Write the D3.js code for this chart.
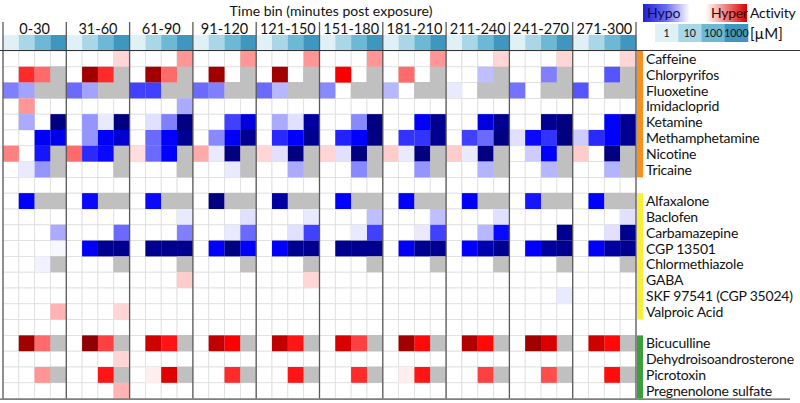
<!DOCTYPE html>
<html>
<head>
<meta charset="utf-8">
<script src="https://cdn.jsdelivr.net/npm/d3@7"></script>
<style>
  body { margin: 0; background: #fff; }
  text { font-family: Lato, "Open Sans", sans-serif; fill: #111; }
</style>
</head>
<body>
<svg id="chart" width="800" height="403"></svg>
<script>
const N = null; // grey cell (no value)

const timeBins = ["0-30", "31-60", "61-90", "91-120", "121-150", "151-180", "181-210", "211-240", "241-270", "271-300"];
const concentrations = ["1", "10", "100", "1000"];
const concColors = ["#dff0f7", "#a9d7e8", "#6cb8d5", "#3f97bf"];

// each row: 10 time bins x 4 concentrations
const groupANames = ["Caffeine", "Chlorpyrifos", "Fluoxetine", "Imidacloprid", "Ketamine", "Methamphetamine", "Nicotine", "Tricaine"];
const groupAValues = [
  [[0,0,0,0],[0,0,0,0.1],[0,0,0,0.25],[0,0,0,0.25],[0,0,0,0.25],[0,0,0,0.25],[0,0,0,0.25],[0,0,0,0.1],[0,0,0,0.1],[0,0,0,0.1]],
  [[0,0.5,0.35,N],[0,0.9,0.5,N],[0,0.9,0.35,N],[0,0.9,0,N],[0,0.9,0,N],[0,0.62,0,N],[0,0.35,0,N],[0,0,-0.15,N],[0,0,-0.3,N],[0,0,-0.4,N]],
  [[-0.3,-0.22,N,N],[-0.35,-0.22,N,N],[-0.45,-0.45,N,N],[-0.35,-0.3,N,N],[-0.35,-0.17,N,N],[-0.28,0,N,N],[-0.17,0,N,N],[-0.05,0,N,N],[-0.33,0,N,N],[-0.4,0,N,N]],
  [[0,0.25,0,0],[0,0,0,0],[0,0,0,-0.2],[0,0,0,0],[0,0,0,0],[0,0,0,0],[0,0,0,0],[0,0,0,0],[0,0,0,0],[0,0,0,0]],
  [[0,-0.2,0,-1],[0,-0.25,-0.05,-1],[0,-0.07,-0.3,-1],[0,0,-0.45,-0.7],[0,-0.2,-0.07,-0.9],[0,0,-0.28,-1],[0,0,-0.6,-0.95],[0,0,-0.7,-0.95],[0,0,-0.95,-1],[0,0,-0.6,-0.95]],
  [[0,0,-0.6,-0.65],[0,-0.25,-0.6,-0.75],[0,-0.35,-0.6,-0.95],[0,-0.28,-0.62,-0.95],[0,-0.5,-0.6,-0.95],[0,-0.52,-0.6,-1],[0,-0.48,-0.48,-0.95],[0,-0.45,-0.35,-1],[-0.07,-0.58,-0.48,-1],[-0.12,-0.5,-0.6,-0.95]],
  [[0.3,0,-0.55,N],[0.35,-0.5,-0.58,N],[0.08,-0.35,-0.6,N],[0.2,-0.05,-1,N],[0.1,-0.07,-1,N],[0.1,-0.07,-1,N],[0.12,-0.05,-1,N],[0.12,-0.05,-1,N],[0,-0.12,-0.6,N],[0.12,0,-1,N]],
  [[0,-0.05,-0.25,N],[0,0,0,N],[0,0,0,N],[0,0,-0.05,N],[0,0,-0.2,N],[0,0,-0.28,N],[0,0,-0.25,N],[0,0,-0.18,N],[0,0,-0.17,N],[0,0,-0.18,N]]
];

const groupBNames = ["Alfaxalone", "Baclofen", "Carbamazepine", "CGP 13501", "Chlormethiazole", "GABA", "SKF 97541 (CGP 35024)", "Valproic Acid"];
const groupBValues = [
  [[0,-0.6,N,N],[0,-0.58,N,N],[0,-0.58,N,N],[0,-1,N,N],[0,-0.9,N,N],[0,-0.6,N,N],[0,-0.6,N,N],[0,-0.6,N,N],[0,-0.55,N,N],[0,-0.6,N,N]],
  [[0,0,0,0],[0,0,0,0],[0,0,0,-0.05],[0,0,0,-0.07],[0,0,0,-0.05],[0,0,0,-0.15],[0,0,0,-0.15],[0,0,0,-0.07],[0,0,0,0],[0,0,0,-0.07]],
  [[0,0,0,-0.2],[0,0,0,-0.35],[0,0,0,-0.3],[0,0,-0.05,-0.35],[0,0,-0.07,-0.45],[0,0,-0.05,-0.45],[0,0,-0.05,-0.45],[0,0,-0.17,-0.58],[0,0,0,-0.95],[0,0,-0.07,-0.95]],
  [[0,0,0,-0.02],[0,-0.62,-0.95,-0.95],[0,-0.95,-0.95,-0.95],[0,-0.6,-1,-0.6],[0,-0.6,-0.95,-0.95],[0,-0.95,-0.95,-0.95],[0,-0.62,-0.95,-0.95],[0,-0.6,-0.85,-0.95],[0,-0.6,-0.9,-0.95],[0,-0.6,-0.9,-0.95]],
  [[0,0,-0.03,N],[0,0,0,N],[0,0,0,N],[0,0,0,N],[0,0,0,N],[0,0,0,N],[0,0,0,N],[0,0,0,N],[0,0,0,N],[0,0,0,N]],
  [[0,0,0,0],[0,0,0,0],[0,0,0,0.12],[0,0,0,0],[0,0,0,0.1],[0,0,0,0],[0,0,0,0],[0,0,0,0],[0,0,0,0],[0,0,0,0]],
  [[0,0,0,0],[0,0,0,0],[0,0,0,0],[0,0,0,0],[0,0,0,0],[0,0,0,0],[0,0,0,0],[0,0,0,0],[0,0,0,-0.05],[0,0,0,0]],
  [[0,0,0,0.18],[0,0,0,0.1],[0,0,0,0],[0,0,0,0],[0,0,0,0],[0,0,0,0],[0,0,0,0],[0,0,0,0],[0,0,0,0],[0,0,0,0]]
];

const groupCNames = ["Bicuculline", "Dehydroisoandrosterone", "Picrotoxin", "Pregnenolone sulfate"];
const groupCValues = [
  [[0,0.9,0.35,N],[0,0.95,0.45,N],[0,0.75,0.55,N],[0,0.8,0.6,N],[0,0.8,0.55,N],[0,0.72,0.45,N],[0,0.9,0.58,N],[0,0.85,0.58,N],[0,0.9,0.72,N],[0,0.75,0.58,N]],
  [[0,0,0,0],[0,0,0,0.1],[0,0,0,0],[0,0,0,0],[0,0,0,0],[0,0,0,0],[0,0,0,0],[0,0,0,0],[0,0,0,0],[0,0,0,0]],
  [[0,0,0.25,N],[0,0,0.55,N],[0,0.04,0.7,N],[0,0,0.5,N],[0,0,0.55,N],[0,0,0.5,N],[0,0.04,0.55,N],[0,0,0.45,N],[0,0,0.42,N],[0,0,0.57,N]],
  [[0,0,0,0],[0,0,0,0.18],[0,0,0,0],[0,0,0,0],[0,0,0,0],[0,0,0,0],[0,0,0,0],[0,0,0,0],[0,0,0,0],[0,0,0,0]]
];

const groupColors = ["#f7901e", "#f9ee3c", "#3c9e3c"];

const groups = [
  { names: groupANames, values: groupAValues, color: groupColors[0] },
  { names: groupBNames, values: groupBValues, color: groupColors[1] },
  { names: groupCNames, values: groupCValues, color: groupColors[2] }
];

// row slots, with an empty slot between groups
const slots = [];
groups.forEach((g, gi) => {
  if (gi > 0) slots.push({ id: "gap" + gi, gap: true });
  g.names.forEach((n, i) => slots.push({ id: n, name: n, values: g.values[i], group: gi }));
});

const svg = d3.select("#chart");
const plotLeft = 3, plotRight = 636, plotTop = 51, rowH = 15.8;

const x = d3.scaleBand().domain(timeBins).range([plotLeft, plotRight]);
const xc = d3.scaleBand().domain(concentrations).range([0, x.bandwidth()]);
const y = d3.scaleBand().domain(slots.map(s => s.id)).range([plotTop, plotTop + slots.length * rowH]);
const plotBottom = plotTop + slots.length * rowH;

const color = d3.scaleLinear()
  .domain([-1, -0.6, 0, 0.6, 1])
  .range(["#000080", "#0000ff", "#ffffff", "#ff0000", "#800000"]);

// cells
const cells = [];
slots.forEach(s => {
  timeBins.forEach((b, bi) => {
    concentrations.forEach((c, ci) => {
      cells.push({ slot: s.id, bin: b, conc: c, v: s.gap ? 0 : s.values[bi][ci] });
    });
  });
});

svg.append("g").selectAll("rect")
  .data(cells)
  .join("rect")
  .attr("x", d => x(d.bin) + xc(d.conc))
  .attr("y", d => y(d.slot))
  .attr("width", xc.bandwidth())
  .attr("height", y.bandwidth())
  .attr("fill", d => d.v === null ? "#c0c0c0" : color(d.v))
  .attr("stroke", d => d.v === null ? "#c0c0c0" : "#dedede")
  .attr("stroke-width", 0.8);

// redraw coloured cells on top so the grid does not cut them
svg.append("g").selectAll("rect")
  .data(cells.filter(d => d.v === null || Math.abs(d.v) > 0.001))
  .join("rect")
  .attr("x", d => x(d.bin) + xc(d.conc))
  .attr("y", d => y(d.slot))
  .attr("width", xc.bandwidth())
  .attr("height", y.bandwidth())
  .attr("fill", d => d.v === null ? "#c0c0c0" : color(d.v));

// concentration strip above each bin
const strip = [];
timeBins.forEach(b => concentrations.forEach((c, i) => strip.push({ bin: b, conc: c, i })));
svg.append("g").selectAll("rect")
  .data(strip)
  .join("rect")
  .attr("x", d => x(d.bin) + xc(d.conc))
  .attr("y", 35)
  .attr("width", xc.bandwidth() + 0.3)
  .attr("height", plotTop - 35)
  .attr("fill", d => concColors[d.i]);

// bin labels
svg.append("g").selectAll("text")
  .data(timeBins)
  .join("text")
  .attr("x", d => x(d) + x.bandwidth() / 2)
  .attr("y", 34)
  .attr("text-anchor", "middle")
  .attr("font-size", 14.5)
  .text(d => d);

svg.append("text")
  .attr("x", 331)
  .attr("y", 16)
  .attr("text-anchor", "middle")
  .attr("font-size", 14)
  .text("Time bin (minutes post exposure)");

// bin separators
svg.append("g").selectAll("line")
  .data(timeBins.map(b => x(b)).concat([plotRight]))
  .join("line")
  .attr("x1", d => d).attr("x2", d => d)
  .attr("y1", 22).attr("y2", plotBottom)
  .attr("stroke", "#5a5a5a")
  .attr("stroke-width", 1.3);

// horizontal rules
svg.append("line")
  .attr("x1", 0).attr("x2", 800).attr("y1", plotTop - 0.5).attr("y2", plotTop - 0.5)
  .attr("stroke", "#333").attr("stroke-width", 1.2);
svg.append("line")
  .attr("x1", 0).attr("x2", 790).attr("y1", plotBottom + 0.5).attr("y2", plotBottom + 0.5)
  .attr("stroke", "#555").attr("stroke-width", 1.2);

// group side bars
groups.forEach(g => {
  const y0 = y(g.names[0]);
  const y1 = y(g.names[g.names.length - 1]) + y.bandwidth();
  svg.append("rect")
    .attr("x", plotRight + 1)
    .attr("y", y0)
    .attr("width", 6)
    .attr("height", y1 - y0)
    .attr("fill", g.color);
});

// compound labels
svg.append("g").selectAll("text")
  .data(slots.filter(s => !s.gap))
  .join("text")
  .attr("x", 646)
  .attr("y", d => y(d.id) + y.bandwidth() / 2 + 5)
  .attr("font-size", 14)
  .attr("letter-spacing", -0.2)
  .text(d => d.name);

// legend: activity gradient
const defs = svg.append("defs");
const grad = defs.append("linearGradient").attr("id", "actgrad");
[[0, "#2020d8"], [0.22, "#6a6aec"], [0.45, "#ffffff"], [0.6, "#ffffff"], [0.8, "#f08080"], [1, "#d80000"]]
  .forEach(([o, c]) => grad.append("stop").attr("offset", o).attr("stop-color", c));
svg.append("rect")
  .attr("x", 643).attr("y", 4).attr("width", 104).attr("height", 18)
  .attr("fill", "url(#actgrad)");
svg.append("text").attr("x", 647).attr("y", 18).attr("font-size", 14).style("fill", "#0a0a50").text("Hypo");
svg.append("text").attr("x", 711).attr("y", 18).attr("font-size", 14).attr("letter-spacing", -0.3).style("fill", "#400000").text("Hyper");
svg.append("text").attr("x", 750).attr("y", 18).attr("font-size", 14).attr("letter-spacing", -0.2).text("Activity");

// legend: concentrations
const lx = d3.scaleBand().domain(concentrations).range([655, 748]);
svg.append("g").selectAll("rect")
  .data(concentrations)
  .join("rect")
  .attr("x", d => lx(d))
  .attr("y", 24)
  .attr("width", lx.bandwidth() + 0.3)
  .attr("height", 18)
  .attr("fill", (d, i) => concColors[i]);
svg.append("g").selectAll("text")
  .data(concentrations)
  .join("text")
  .attr("x", d => lx(d) + lx.bandwidth() / 2)
  .attr("y", 37)
  .attr("text-anchor", "middle")
  .attr("font-size", 10.5)
  .text(d => d);
svg.append("text").attr("x", 750).attr("y", 39).attr("font-size", 15).text("[µM]");
</script>
</body>
</html>
